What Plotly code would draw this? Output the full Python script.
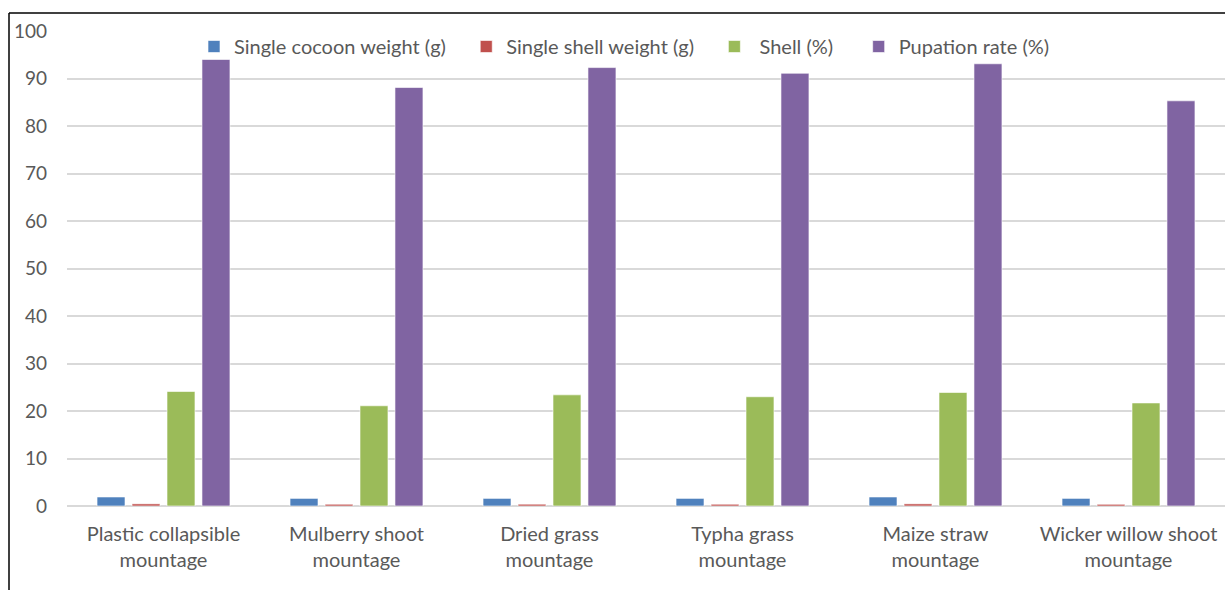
import plotly.graph_objects as go

# Cocooning frame types
categories = [
    "Plastic collapsible<br>mountage",
    "Mulberry shoot<br>mountage",
    "Dried grass<br>mountage",
    "Typha grass<br>mountage",
    "Maize straw<br>mountage",
    "Wicker willow shoot<br>mountage",
]

cocoon_weight = [1.9, 1.6, 1.6, 1.6, 1.9, 1.6]       # Single cocoon weight (g)
shell_weight = [0.45, 0.37, 0.38, 0.37, 0.45, 0.36]  # Single shell weight (g)
shell_pct = [24.1, 21.1, 23.4, 23.0, 23.9, 21.7]     # Shell (%)
pupation_rate = [94.0, 88.1, 92.3, 91.1, 93.1, 85.3] # Pupation rate (%)

y_ticks = [0, 10, 20, 30, 40, 50, 60, 70, 80, 90, 100]

NB = "\u00a0"
series = [
    ("Single cocoon weight (g)" + NB * 3, cocoon_weight, "#4F81BD"),
    ("Single shell weight (g)" + NB * 3, shell_weight, "#C0504D"),
    (NB + "Shell (%)" + NB * 4, shell_pct, "#9BBB59"),
    ("Pupation rate (%)", pupation_rate, "#8064A2"),
]

FONT = "Lato"
TEXT = "#595959"

fig = go.Figure()
for name, vals, color in series:
    fig.add_trace(go.Bar(
        name=name, x=categories, y=vals,
        marker=dict(color=color, line=dict(color="rgba(255,255,255,0.6)", width=1)),
    ))

W, H = 1225, 590
L, R, T, B = 67, 0, 31, 84
pw, ph = W - L - R, H - T - B

def px_x(px):
    return (px - L) / pw

def px_y(py):
    return (H - B - py) / ph

# outer frame: top and left edges
frame = [
    dict(type="line", xref="paper", yref="paper",
         x0=px_x(9), y0=px_y(13), x1=px_x(W + 5), y1=px_y(13),
         line=dict(color="#000000", width=1.5)),
    dict(type="line", xref="paper", yref="paper",
         x0=px_x(9), y0=px_y(13), x1=px_x(9), y1=px_y(H + 5),
         line=dict(color="#000000", width=1.5)),
]

fig.update_layout(
    width=W, height=H,
    margin=dict(l=L, r=R, t=T, b=B),
    paper_bgcolor="white", plot_bgcolor="white",
    barmode="group", bargap=0.275, bargroupgap=0.2,
    font=dict(family=FONT, color=TEXT, size=18),
    showlegend=True,
    legend=dict(
        orientation="h", x=px_x(194), y=px_y(46.5), xanchor="left", yanchor="middle",
        font=dict(family=FONT, size=20, color=TEXT),
        bgcolor="rgba(0,0,0,0)", itemclick=False, traceorder="normal",
    ),
    shapes=frame,
    xaxis=dict(
        showgrid=False, showline=False, ticks="", ticklabelstandoff=14,
        tickfont=dict(family=FONT, size=20, color=TEXT),
    ),
    yaxis=dict(
        range=[0, 100], tickvals=y_ticks, showgrid=True, gridcolor="#D9D9D9",
        gridwidth=1.5, zeroline=True, zerolinecolor="#D9D9D9", zerolinewidth=1.5,
        showline=False, ticks="", ticklabelstandoff=19,
        tickfont=dict(family=FONT, size=19, color=TEXT),
    ),
)

fig.write_html("out.html")
